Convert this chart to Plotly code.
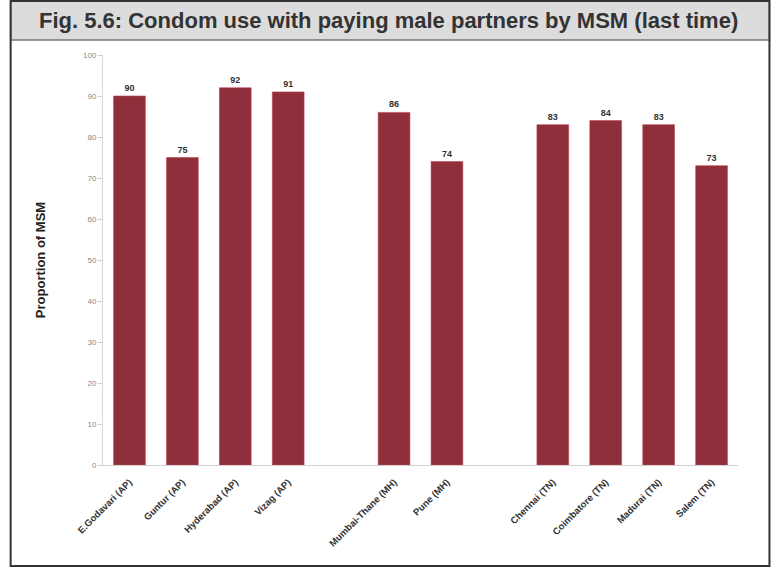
import plotly.graph_objects as go

categories = ["E.Godavari (AP)", "Guntur (AP)", "Hyderabad (AP)", "Vizag (AP)",
              "Mumbai-Thane (MH)", "Pune (MH)",
              "Chennai (TN)", "Coimbatore (TN)", "Madurai (TN)", "Salem (TN)"]
values = [90, 75, 92, 91, 86, 74, 83, 84, 83, 73]
# slot positions (empty slots separate the state groups)
slots = [0, 1, 2, 3, 5, 6, 8, 9, 10, 11]
y_ticks = list(range(0, 101, 10))

W, H = 773, 569
fig = go.Figure()
fig.add_trace(go.Bar(
    x=slots, y=values, width=0.6,
    marker=dict(color="#8f2f3b", line=dict(color="#c04050", width=0.6)),
    text=[str(v) for v in values], textposition="outside",
    textfont=dict(family="Liberation Sans", size=9, color="#333333"),
    texttemplate="<b>%{text}</b>", cliponaxis=False,
))

fig.update_layout(
    width=W, height=H,
    margin=dict(l=102.5, r=34.5, t=55, b=104),
    paper_bgcolor="white", plot_bgcolor="white",
    showlegend=False,
    xaxis=dict(
        range=[-0.5, 11.5], tickmode="array", tickvals=slots,
        ticktext=["<b>%s</b>" % c for c in categories],
        tickangle=-45, tickfont=dict(family="Liberation Sans", size=9.5, color="#333333"),
        showline=True, linecolor="#d0d0d0", linewidth=1,
        showgrid=False, zeroline=False,
        ticks="outside", ticklen=7, tickcolor="rgba(0,0,0,0)",
    ),
    yaxis=dict(
        range=[0, 100], tickmode="array", tickvals=y_ticks,
        tickfont=dict(family="Liberation Sans", size=8, color="#888888"),
        showline=True, linecolor="#d8d8d8", linewidth=1,
        ticks="outside", ticklen=4, tickcolor="#cccccc",
        showgrid=False, zeroline=False,
        title=dict(text="<b>Proportion of MSM</b>",
                   font=dict(family="Liberation Sans", size=13, color="#222222"),
                   standoff=34),
    ),
    shapes=[
        # title box
        dict(type="rect", xref="paper", yref="paper",
             x0=(10 - 102.5) / 636, x1=(770 - 102.5) / 636,
             y0=(465 - 40) / 410, y1=(465 - 1) / 410,
             fillcolor="#dcdcdc", line=dict(color="#777777", width=1.5), layer="below"),
        # outer frame
        dict(type="rect", xref="paper", yref="paper",
             x0=(10 - 102.5) / 636, x1=(770 - 102.5) / 636,
             y0=(465 - 566) / 410, y1=(465 - 1) / 410,
             fillcolor="rgba(0,0,0,0)", line=dict(color="#333333", width=2)),
    ],
    annotations=[
        dict(text="<b>Fig. 5.6: Condom use with paying male partners by MSM (last time)</b>",
             xref="paper", yref="paper", x=(388 - 102.5) / 636, y=(465 - 21) / 410,
             xanchor="center", yanchor="middle", showarrow=False,
             font=dict(family="Liberation Sans", size=22, color="#333333")),
    ],
)

fig.write_html("out.html")
